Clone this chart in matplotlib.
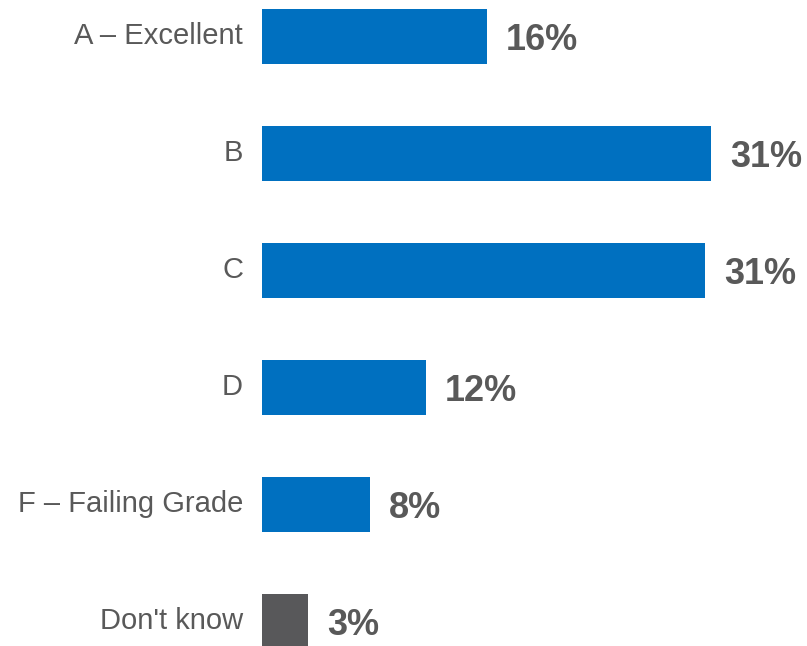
import matplotlib
matplotlib.use("Agg")
import matplotlib.pyplot as plt
from matplotlib.transforms import ScaledTranslation

categories = ["A \u2013 Excellent", "B", "C", "D", "F \u2013 Failing Grade", "Don't know"]
values = [15.6, 31.2, 30.8, 11.4, 7.5, 3.2]
value_labels = ["16%", "31%", "31%", "12%", "8%", "3%"]
colors = ["#0070C0"] * 5 + ["#58585A"]

plt.rcParams['font.family'] = ['Liberation Sans', 'DejaVu Sans']
txt = "#595959"

fig = plt.figure(figsize=(8.07, 6.46), dpi=100)
ax = fig.add_axes([262 / 807, 0, 1 - 262 / 807, 1])

pos = list(range(len(categories)))
ax.barh(pos, values, height=0.47, color=colors)

ax.set_xlim(0, 37.85)
ax.set_ylim(5 + 24.5 / 117, -36.5 / 117)

for p, v, lab in zip(pos, values, value_labels):
    ax.annotate(lab, (v, p), xytext=(19 * 72 / 100, -2.7), textcoords="offset points",
                ha="left", va="center", fontsize=26, fontweight="bold", color=txt)

ax.set_yticks(pos)
ax.set_yticklabels(categories, fontsize=21, color=txt)
ax.tick_params(axis="y", length=0, pad=19 * 72 / 100)
shift = ScaledTranslation(0, 3.5 / 100, fig.dpi_scale_trans)
for t in ax.get_yticklabels():
    t.set_transform(t.get_transform() + shift)
ax.set_xticks([])
for s in ax.spines.values():
    s.set_visible(False)

fig.savefig("out.png", dpi=100)
